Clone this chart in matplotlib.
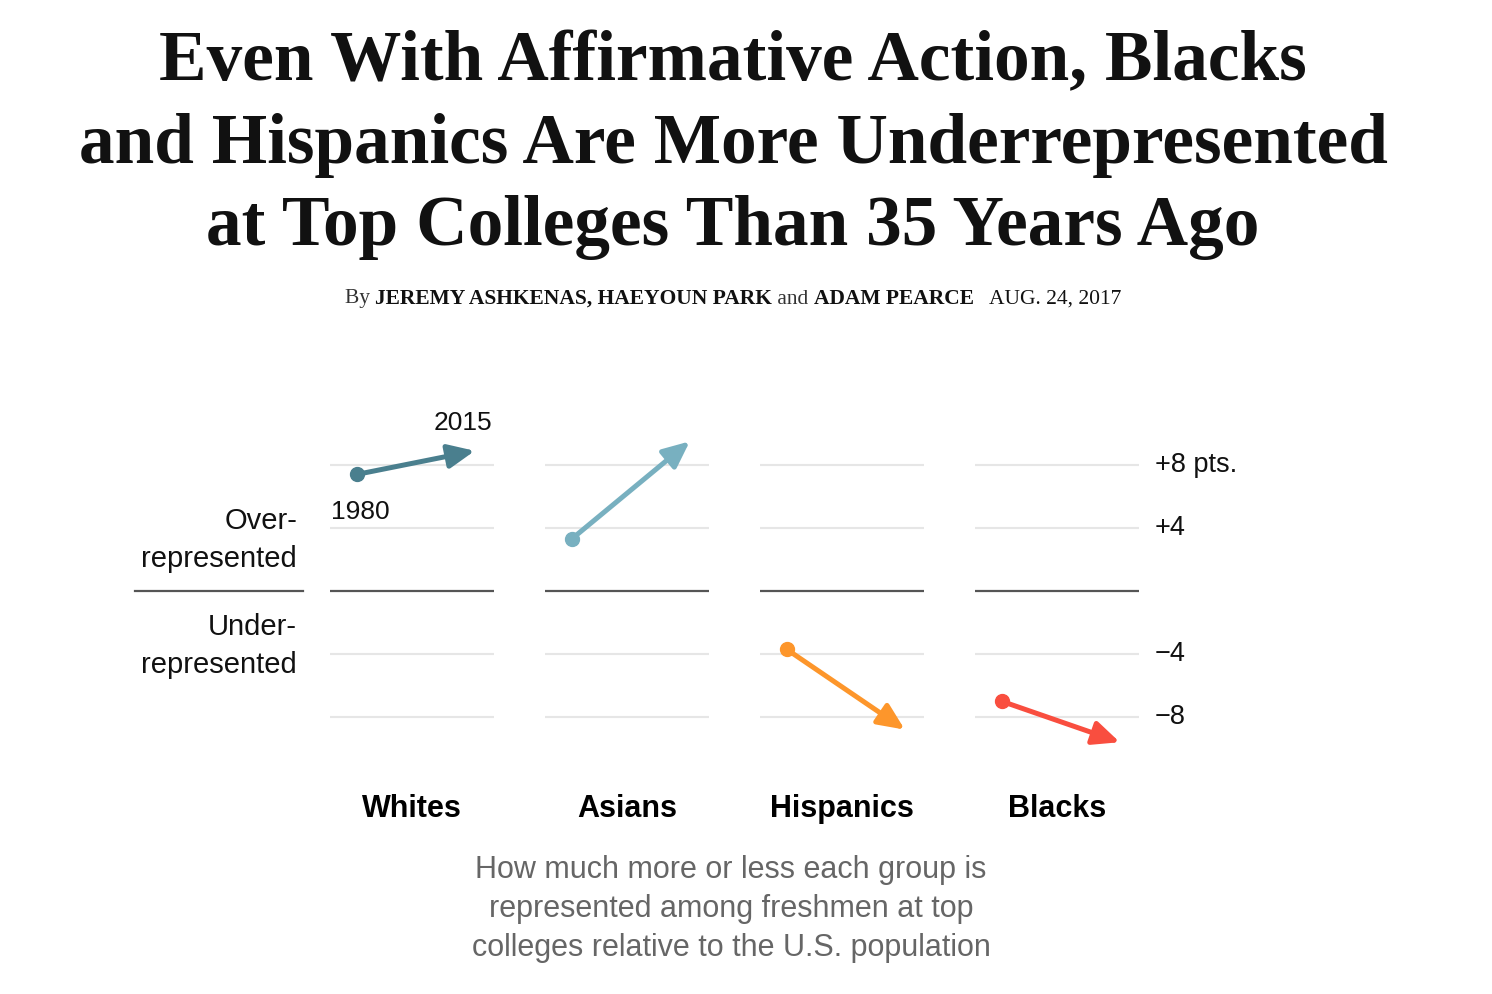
import numpy as np
import matplotlib
matplotlib.use("Agg")
import matplotlib.pyplot as plt

W, H = 1492, 994

# ── Data ─────────────────────────────────────────────────────────────────
groups = ["Whites", "Asians", "Hispanics", "Blacks"]
years = [1980, 2015]
vals_1980 = [7.4, 3.3, -3.7, -7.0]
vals_2015 = [8.9, 9.5, -8.8, -9.6]
colors = ["#4a7f8e", "#78b0c0", "#fd962b", "#f94e3f"]
grid_ticks = [8, 4, -4, -8]
tick_labels = ["+8 pts.", "+4", "\u22124", "\u22128"]

SANS = ["Liberation Sans", "DejaVu Sans"]
SERIF = ["Liberation Serif", "DejaVu Serif"]


def fx(px):
    return px / W


def fy(py):
    return 1 - py / H


fig = plt.figure(figsize=(W / 100, H / 100), dpi=100)
fig.patch.set_facecolor("white")

# ── Title / byline ──────────────────────────────────────────────────────
title_lines = ["Even With Affirmative Action, Blacks",
               "and Hispanics Are More Underrepresented",
               "at Top Colleges Than 35 Years Ago"]
for line, y in zip(title_lines, [63, 145, 227]):
    fig.text(fx(733), fy(y), line, ha="center", va="center", fontsize=51.3,
             family=SERIF, weight="bold", color="#111111")

byline = [("By ", "normal", "#333333"), ("JEREMY ASHKENAS, HAEYOUN PARK", "bold", "#111111"),
          (" and ", "normal", "#333333"), ("ADAM PEARCE", "bold", "#111111"),
          ("   AUG. 24, 2017", "normal", "#111111")]
fig.canvas.draw()
renderer = fig.canvas.get_renderer()
pieces = []
for txt, wt, c in byline:
    t = fig.text(0, fy(299), txt, ha="left", va="center", fontsize=15.5,
                 family=SERIF, weight=wt, color=c)
    pieces.append(t)
widths = [p.get_window_extent(renderer).width for p in pieces]
x0 = 733 - sum(widths) / 2
for p, w in zip(pieces, widths):
    p.set_x(fx(x0))
    x0 += w

# ── Panels ──────────────────────────────────────────────────────────────
panel_left = [330, 545, 760, 975]
panel_w = 164
ylo, yhi = -11, 10.5
px_per_pt = (717 - 465) / 16
ax_top = 465 - (yhi - 8) * px_per_pt
ax_bot = 717 + (-8 - ylo) * px_per_pt
xlo, xhi = 1972.1, 2020.7

for i, g in enumerate(groups):
    ax = fig.add_axes([fx(panel_left[i]), fy(ax_bot), panel_w / W, (ax_bot - ax_top) / H])
    ax.set_xlim(xlo, xhi)
    ax.set_ylim(ylo, yhi)
    ax.axis("off")
    for t in grid_ticks:
        ax.axhline(t, color="#e6e6e6", lw=1.5, zorder=0)
    ax.axhline(0, color="#555555", lw=1.6, zorder=1)
    c = colors[i]
    ax.annotate("", xy=(years[1], vals_2015[i]), xytext=(years[0], vals_1980[i]),
                arrowprops=dict(arrowstyle="-|>,head_length=0.8,head_width=0.36",
                                color=c, lw=3.6, shrinkA=0, shrinkB=0,
                                mutation_scale=20),
                annotation_clip=False, zorder=3)
    ax.plot(years[0], vals_1980[i], "o", color=c, ms=10, zorder=4)
    fig.text(fx(panel_left[i] + panel_w / 2), fy(809), g, ha="center", va="center",
             fontsize=22, weight="bold", family=SANS, color="black")
    if i == 0:
        ax.text(years[0] - 7.6, vals_1980[i] - 2.4, "1980", ha="left", va="center",
                fontsize=19, family=SANS, color="#111111")
        ax.text(years[1] + 5.2, vals_2015[i] + 1.75, "2015", ha="right", va="center",
                fontsize=19, family=SANS, color="#111111")
    if i == len(groups) - 1:
        for t, lab in zip(grid_ticks, tick_labels):
            ax.text(2025.4, t, lab, ha="left", va="center", fontsize=19.5,
                    family=SANS, color="#111111", clip_on=False)

# ── Left side labels ────────────────────────────────────────────────────
fig.add_artist(plt.Line2D([fx(135), fx(303)], [fy(591), fy(591)], color="#555555", lw=1.6))
fig.text(fx(297), fy(540), "Over-\nrepresented", ha="right", va="center", fontsize=21,
         family=SANS, color="#111111", linespacing=1.48)
fig.text(fx(297), fy(646), "Under-\nrepresented", ha="right", va="center", fontsize=21,
         family=SANS, color="#111111", linespacing=1.48)

# ── Caption ─────────────────────────────────────────────────────────────
fig.text(fx(731), fy(909), "How much more or less each group is\n"
         "represented among freshmen at top\n"
         "colleges relative to the U.S. population",
         ha="center", va="center", fontsize=22, family=SANS, color="#666666",
         linespacing=1.41)

fig.savefig("out.png", dpi=100, facecolor="white")
